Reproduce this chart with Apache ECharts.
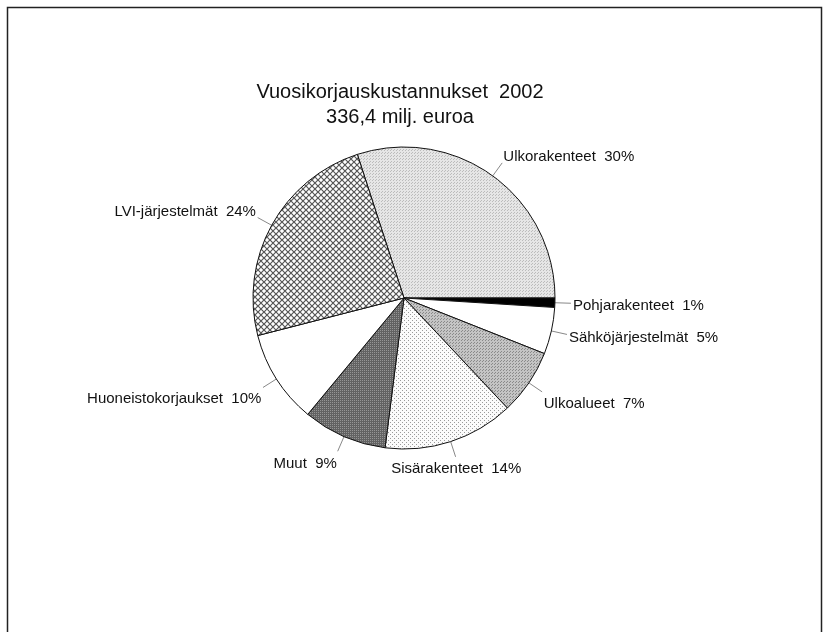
<!DOCTYPE html>
<html>
<head>
<meta charset="utf-8">
<script src="https://cdn.jsdelivr.net/npm/echarts@6/dist/echarts.min.js"></script>
<style>
  html, body { margin: 0; padding: 0; background: #fff; }
  #chart { width: 830px; height: 632px; }
</style>
</head>
<body>
<div id="chart"></div>
<script>
var titleLines = ['Vuosikorjauskustannukset  2002', '336,4 milj. euroa']
var names = ['Ulkorakenteet', 'Pohjarakenteet', 'Sähköjärjestelmät', 'Ulkoalueet',
  'Sisärakenteet', 'Muut', 'Huoneistokorjaukset', 'LVI-järjestelmät']
var shares = [30, 1, 5, 7, 14, 9, 10, 24]

// small tiles to imitate the print hatching
function tile(size, bg, draw) {
  var c = document.createElement('canvas')
  c.width = size
  c.height = size
  var ctx = c.getContext('2d')
  ctx.fillStyle = bg
  ctx.fillRect(0, 0, size, size)
  if (draw) draw(ctx)
  return {image: c, repeat: 'repeat'}
}
function dots(color, pts) {
  return function (ctx) {
    ctx.fillStyle = color
    pts.forEach(function (p) { ctx.fillRect(p[0], p[1], 1, 1) })
  }
}

var fills = [
  tile(3, '#e6e6e6', dots('#bcbcbc', [[0, 0], [1, 2]])),
  '#000',
  '#fff',
  tile(3, '#c4c4c4', dots('#8a8a8a', [[0, 0], [2, 1]])),
  tile(4, '#fbfbfb', dots('#9a9a9a', [[0, 0], [2, 2]])),
  tile(2, '#626262', dots('#959595', [[0, 0]])),
  '#fff',
  tile(6, '#fff', function (ctx) {
    ctx.strokeStyle = '#555'
    ctx.lineWidth = 1.2
    ctx.beginPath()
    ctx.moveTo(-1, -1); ctx.lineTo(7, 7)
    ctx.moveTo(7, -1); ctx.lineTo(-1, 7)
    ctx.stroke()
  })
]

var pieData = names.map(function (n, i) {
  return {name: n, value: shares[i], itemStyle: {color: fills[i]}}
})

var font = 'Liberation Sans, Arial, sans-serif'
var chart = echarts.init(document.getElementById('chart'))
var option = {
  backgroundColor: '#fff',
  animation: false,
  title: {
    text: titleLines.join('\n'),
    left: 395,
    textAlign: 'center',
    top: 75,
    textStyle: {
      fontFamily: font,
      fontWeight: 'normal',
      fontSize: 20,
      lineHeight: 25,
      color: '#111'
    }
  },
  graphic: [{
    type: 'rect',
    shape: {x: 7.5, y: 7.5, width: 814, height: 700},
    style: {fill: 'none', stroke: '#222', lineWidth: 1.5},
    silent: true
  }],
  series: [{
    type: 'pie',
    center: [404, 298],
    radius: 151,
    startAngle: 108,
    clockwise: true,
    avoidLabelOverlap: false,
    itemStyle: {borderColor: '#111', borderWidth: 1},
    label: {
      position: 'outside',
      formatter: function (p) { return p.name + '  ' + p.value + '%' },
      fontFamily: font,
      fontSize: 15,
      color: '#111'
    },
    labelLine: {
      show: true,
      length: 16,
      length2: 0,
      lineStyle: {color: '#888', width: 1}
    },
    // text hangs off the end of a short radial tick, on its outer side
    labelLayout: function (params) {
      var pts = params.labelLinePoints
      if (!pts) return {}
      var p0 = pts[0], p1 = pts[1]
      var dx = p1[0] - p0[0], dy = p1[1] - p0[1]
      var len = Math.sqrt(dx * dx + dy * dy) || 1
      var ux = dx / len, uy = dy / len
      var ex = p0[0] + ux * 16, ey = p0[1] + uy * 16
      return {
        x: ex + ux * 2,
        y: ey + uy * 2 + 3,
        align: ux > 0.35 ? 'left' : (ux < -0.35 ? 'right' : 'center'),
        verticalAlign: uy > 0.35 ? 'top' : (uy < -0.35 ? 'bottom' : 'middle'),
        labelLinePoints: [p0, [ex, ey], [ex, ey]]
      }
    },
    emphasis: {disabled: true},
    data: pieData
  }]
}
chart.setOption(option)
</script>
</body>
</html>
